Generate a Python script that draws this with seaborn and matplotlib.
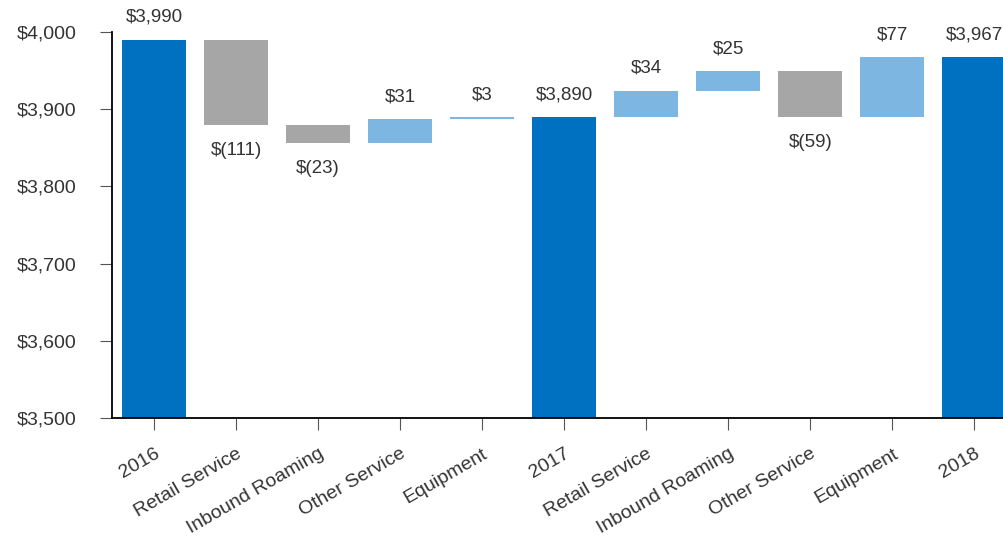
import matplotlib
matplotlib.use("Agg")
import matplotlib.pyplot as plt
import seaborn as sns
import numpy as np
import pandas as pd

# ---- data ----
categories = ["2016", "Retail Service", "Inbound Roaming", "Other Service", "Equipment",
              "2017", "Retail Service", "Inbound Roaming", "Other Service", "Equipment", "2018"]
values = [3990, -111, -23, 31, 3, 3890, 34, 25, -59, 77, 3967]
is_total = [True, False, False, False, False, True, False, False, False, False, True]
y_ticks = [3500, 3600, 3700, 3800, 3900, 4000]

# ---- style ----
sns.set_style("white")
plt.rcParams["font.family"] = ["Liberation Sans", "DejaVu Sans"]
TEXT = "#333333"
C_TOTAL = "#0070C0"
C_UP = "#7EB6E2"
C_DOWN = "#A6A6A6"

# ---- waterfall geometry from values ----
bottoms, heights, kinds = [], [], []
running = 0
for v, t in zip(values, is_total):
    if t:
        running = v
        bottoms.append(0)
        heights.append(v)
        kinds.append("total")
    else:
        new = running + v
        bottoms.append(min(running, new))
        heights.append(abs(v))
        kinds.append("up" if v > 0 else "down")
        running = new

ids = [str(i) for i in range(len(categories))]
df = pd.DataFrame({"id": ids, "pos": range(len(ids)), "bottom": bottoms,
                   "height": heights, "kind": kinds, "value": values})

fig = plt.figure(figsize=(10.04, 5.42), dpi=100)
ax = fig.add_axes([112 / 1004, 124 / 542, (1004 - 112) / 1004, (418 - 32) / 542])

colors = {"total": C_TOTAL, "up": C_UP, "down": C_DOWN}
for kind, col in colors.items():
    sub = df[df["kind"] == kind].sort_values("pos")
    sns.barplot(data=sub, x="id", y="height", order=ids, color=col,
                bottom=sub["bottom"].to_numpy(), width=0.78, ax=ax,
                saturation=1, edgecolor="none", linewidth=0)

ax.set_ylim(3500, 4000)
ax.set_xlim(-0.512, 10.36)
ax.set_yticks(y_ticks)
ax.set_yticklabels([f"${v:,.0f}" for v in y_ticks])
ax.set_xticks(range(len(categories)))
ax.set_xticklabels(categories, rotation=30, ha="right", va="top", rotation_mode="anchor")
ax.set_xlabel("")
ax.set_ylabel("")

for s in ["top", "right"]:
    ax.spines[s].set_visible(False)
for s in ["left", "bottom"]:
    ax.spines[s].set_color("black")
    ax.spines[s].set_linewidth(1.3)

ax.tick_params(axis="y", length=8.5, width=0.8, color="#555555", pad=17,
               labelsize=14, labelcolor=TEXT, left=True)
ax.tick_params(axis="x", length=8.5, width=0.8, color="#555555", pad=11,
               labelsize=14, labelcolor=TEXT, bottom=True)
for lbl in ax.get_xticklabels():
    lbl.set_x(lbl.get_position()[0])

# value labels
for i, row in df.iterrows():
    v = row["value"]
    if v >= 0:
        y = row["bottom"] + row["height"]
        txt = f"${v:,.0f}"
        ax.annotate(txt, (row["pos"], y), xytext=(0, 10), textcoords="offset points",
                    ha="center", va="bottom", fontsize=13.5, color=TEXT, annotation_clip=False)
    else:
        y = row["bottom"]
        txt = f"$({abs(v):,.0f})"
        ax.annotate(txt, (row["pos"], y), xytext=(0, -12), textcoords="offset points",
                    ha="center", va="top", fontsize=13.5, color=TEXT, annotation_clip=False)

fig.savefig("out.png", dpi=100)
